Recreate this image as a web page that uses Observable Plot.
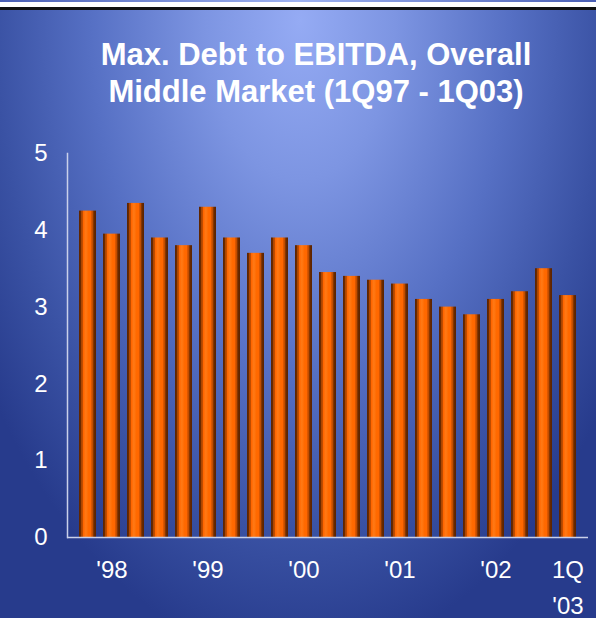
<!DOCTYPE html>
<html>
<head>
<meta charset="utf-8">
<script src="https://cdn.jsdelivr.net/npm/d3@7"></script>
<script src="https://cdn.jsdelivr.net/npm/@observablehq/plot@0.6"></script>
<style>
  html, body { margin: 0; padding: 0; }
  #wrap {
    position: relative; width: 596px; height: 618px; overflow: hidden;
    font-family: "Liberation Sans", Arial, sans-serif;
    background: radial-gradient(ellipse 380px 640px at 300px 20px, #95abf4 0%, #7d95e2 25%, #5670c4 55%, #3a52a4 80%, #273b8c 100%);
  }
  #topband1 { position: absolute; left: 0; top: 0; width: 596px; height: 2px;
    background: linear-gradient(to right, #4a5fb4, #9fb3f2 50%, #4a5fb4); }
  #topband2 { position: absolute; left: 0; top: 2px; width: 596px; height: 5px; background: #ffffff; }
  #topband3 { position: absolute; left: 0; top: 7px; width: 596px; height: 3px; background: #111; }
  #title {
    position: absolute; left: 36px; width: 560px; top: 36px;
    text-align: center; color: #fff; font-weight: bold; font-size: 31px; line-height: 37px;
  }
  #chart { position: absolute; left: 0; top: 130px; }
</style>
</head>
<body>
<div id="wrap">
  <div id="topband1"></div><div id="topband2"></div><div id="topband3"></div>
  <div id="title">Max. Debt to EBITDA, Overall<br>Middle Market (1Q97 - 1Q03)</div>
  <div id="chart"></div>
</div>
<script>
// Data: 21 quarterly observations, 1Q97 - 1Q03 (as shown)
const periods = d3.range(1, 22); // bar order
const values = [4.25, 3.95, 4.35, 3.9, 3.8, 4.3, 3.9, 3.7, 3.9, 3.8, 3.45, 3.4, 3.35, 3.3, 3.1, 3.0, 2.9, 3.1, 3.2, 3.5, 3.15];
const tickLabels = ["", "'98", "", "", "", "'99", "", "", "", "'00", "", "", "", "'01", "", "", "", "'02", "", "", "1Q\n'03"];
const yTicks = [0, 1, 2, 3, 4, 5];

const data = periods.map((p, i) => ({p, v: values[i]}));

const defs = () => {
  const d = d3.create("svg:defs");
  const g = d.append("linearGradient").attr("id", "barGrad").attr("x1", "0").attr("x2", "1").attr("y1", "0").attr("y2", "0");
  [["0%", "#5a2300"], ["11%", "#6e2c00"], ["13%", "#a84400"], ["24%", "#c85000"], ["26%", "#ff6600"],
   ["40%", "#ff7a16"], ["55%", "#ff6a00"], ["70%", "#ff6600"], ["74%", "#d45400"], ["84%", "#b04600"],
   ["86%", "#6e2c00"], ["100%", "#5a2300"]]
    .forEach(([o, c]) => g.append("stop").attr("offset", o).attr("stop-color", c));
  return d.node();
};

const chart = Plot.plot({
  width: 596,
  height: 488,
  marginLeft: 67,
  marginRight: 8,
  marginTop: 23,
  marginBottom: 81,
  style: {background: "transparent", color: "#fff", fontFamily: "Liberation Sans, Arial, sans-serif"},
  x: {domain: periods, paddingInner: 0.31, paddingOuter: 0.16, label: null},
  y: {domain: [0, 5], label: null},
  marks: [
    defs,
    Plot.barY(data, {x: "p", y: "v", fill: "url(#barGrad)"}),
    Plot.frame({anchor: "left", stroke: "#c9d0ea", strokeWidth: 1.5}),
    Plot.ruleY([0], {stroke: "#c9d0ea", strokeWidth: 1.5}),
    Plot.axisY({ticks: yTicks, tickFormat: "d", tickSize: 0, tickPadding: 20, fontSize: 24, fill: "#fff", label: null}),
    Plot.axisX({tickSize: 0, tickPadding: 15, fontSize: 24, fill: "#fff", lineHeight: 1.5,
      tickFormat: (d) => tickLabels[d - 1], label: null})
  ]
});
document.getElementById("chart").appendChild(chart);
</script>
</body>
</html>
